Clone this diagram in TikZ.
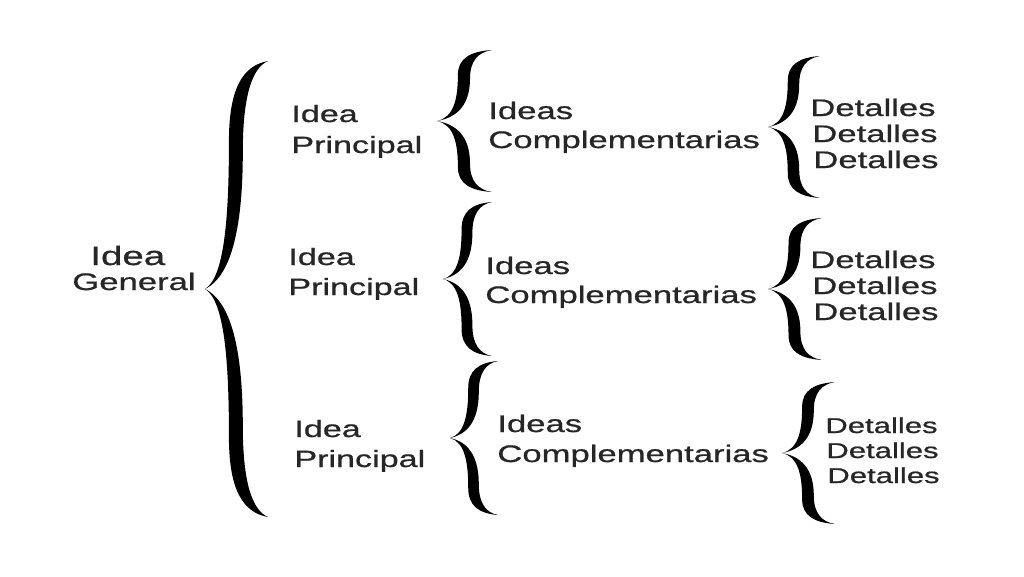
\documentclass[tikz,border=0pt]{standalone}
\usepackage{fontspec}
\newfontfamily\widesans[FakeStretch=1.45,FakeBold=0.8]{Liberation Sans}

\begin{document}
\begin{tikzpicture}[x=0.02cm,y=-0.02cm,
  txt/.style={anchor=base west,inner sep=0pt,text=black!85,
    font=\widesans\fontsize{13.6pt}{16pt}\selectfont},
  lefttxt/.style={txt,font=\widesans\fontsize{13.4pt}{16pt}\selectfont},
  smalltxt/.style={txt,font=\widesans\fontsize{12.2pt}{15pt}\selectfont},
  curl/.pic={
    \fill[black] (1,1) .. controls (0.6,0.98) and (0.38,0.88) .. (0.38,0.65)
      .. controls (0.38,0.3) and (0.3,0.05) .. (0,0)
      .. controls (0.3,-0.05) and (0.38,-0.3) .. (0.38,-0.65)
      .. controls (0.38,-0.88) and (0.6,-0.98) .. (1,-1)
      .. controls (0.75,-0.97) and (0.6,-0.85) .. (0.6,-0.6)
      .. controls (0.6,-0.3) and (0.45,-0.06) .. (0,0)
      .. controls (0.45,0.06) and (0.6,0.3) .. (0.6,0.6)
      .. controls (0.6,0.85) and (0.75,0.97) .. (1,1) -- cycle;
  }]
\useasboundingbox (0,0) rectangle (1024,576);
%GENERAL
\node[txt,font=\widesans\fontsize{15.1pt}{18pt}\selectfont] (ideaG) at (90,265) {Idea};
\node[txt,font=\widesans\fontsize{13.6pt}{17pt}\selectfont] (genG) at (72,290) {General};
\coordinate (tipG) at (205,289);
\pic[xscale=63,yscale=228] at (tipG) {curl};
%ROW 1
\node[lefttxt] (idea1) at (291,122) {Idea};
\node[lefttxt] (princ1) at (291,153) {Principal};
\coordinate (tipA1) at (437,121);
\pic[xscale=55,yscale=71] at (tipA1) {curl};
\node[txt] (ideas1) at (488,119) {Ideas};
\node[txt] (compl1) at (488,148) {Complementarias};
\coordinate (tipB1) at (768,127);
\pic[xscale=52,yscale=71] at (tipB1) {curl};
\node[txt] (det1a) at (810,116) {Detalles};
\node[txt] (det1b) at (812,142) {Detalles};
\node[txt] (det1c) at (813,168) {Detalles};
%ROW 2
\node[lefttxt] (idea2) at (288,265) {Idea};
\node[lefttxt] (princ2) at (288,295) {Principal};
\coordinate (tipA2) at (443,279);
\pic[xscale=49,yscale=77] at (tipA2) {curl};
\node[txt] (ideas2) at (485,274) {Ideas};
\node[txt] (compl2) at (485,303) {Complementarias};
\coordinate (tipB2) at (768,289);
\pic[xscale=54,yscale=71] at (tipB2) {curl};
\node[txt] (det2a) at (810,268) {Detalles};
\node[txt] (det2b) at (812,294) {Detalles};
\node[txt] (det2c) at (813,320) {Detalles};
%ROW 3
\node[lefttxt] (idea3) at (294,437) {Idea};
\node[lefttxt] (princ3) at (294,467) {Principal};
\coordinate (tipA3) at (450,438);
\pic[xscale=48,yscale=77] at (tipA3) {curl};
\node[txt] (ideas3) at (497,432) {Ideas};
\node[txt] (compl3) at (497,462) {Complementarias};
\coordinate (tipB3) at (782,453);
\pic[xscale=53,yscale=71] at (tipB3) {curl};
\node[smalltxt] (det3a) at (825,433) {Detalles};
\node[smalltxt] (det3b) at (826,458) {Detalles};
\node[smalltxt] (det3c) at (827,483) {Detalles};
\end{tikzpicture}
\end{document}
